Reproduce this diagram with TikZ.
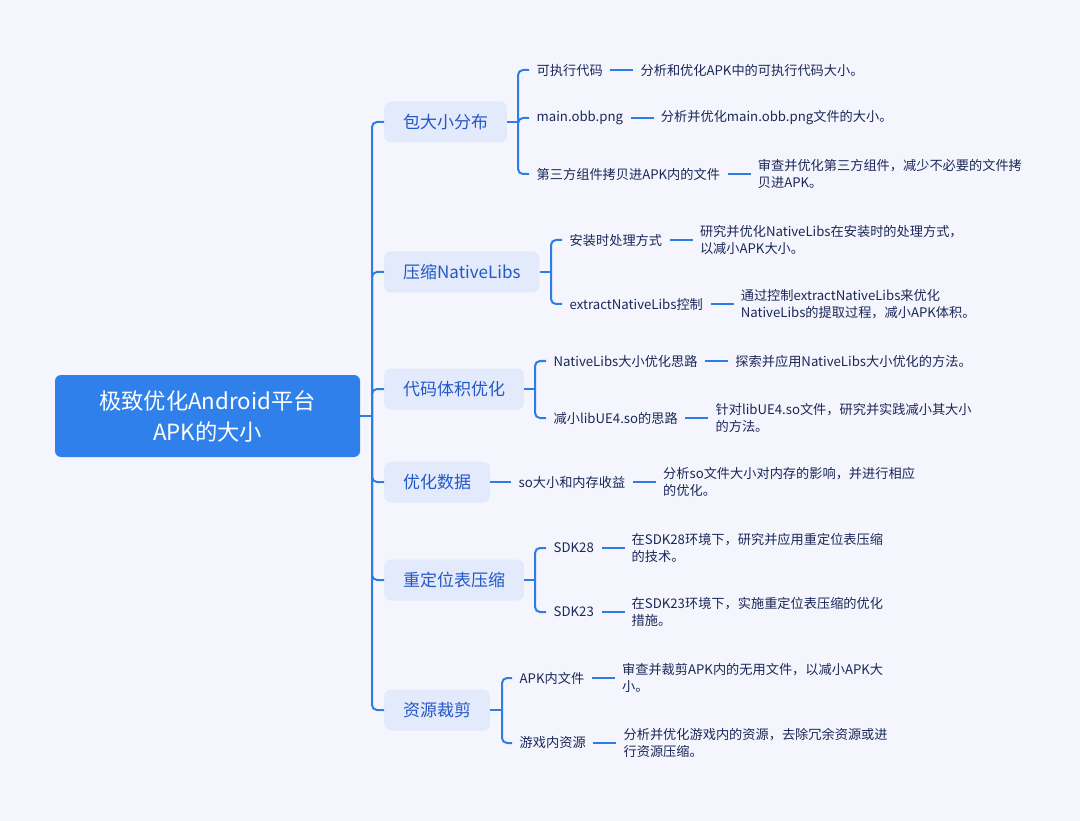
\documentclass[tikz,border=0pt]{standalone}
\usepackage{fontspec}
\setmainfont{Noto Sans CJK SC}
\usetikzlibrary{positioning}
\definecolor{bgc}{HTML}{F5F6FD}
\definecolor{rootc}{HTML}{2F80EA}
\definecolor{linec}{HTML}{2E7DE6}
\definecolor{brfill}{HTML}{E3EAFC}
\definecolor{brtext}{HTML}{2358C6}
\definecolor{leaftext}{HTML}{1B2758}
\begin{document}
\begin{tikzpicture}[x=1pt,y=-1pt,
  rootbox/.style={fill=rootc, rounded corners=6pt, minimum width=305pt, minimum height=82pt, text=white, font=\fontsize{22.3}{31}\selectfont, align=center, inner sep=0pt},
  branch/.style={fill=brfill, rounded corners=7pt, minimum height=41pt, text=brtext, font=\fontsize{17}{20}\selectfont, anchor=west, inner xsep=19pt, inner ysep=0pt},
  leaf/.style={text=leaftext, font=\fontsize{13.2}{17.5}\selectfont, anchor=west, inner xsep=7.5pt, inner ysep=2pt},
  desc/.style={leaf, align=left, inner xsep=7pt},
  conn/.style={draw=linec, line width=2pt, rounded corners=5pt},
  dashc/.style={draw=linec, line width=2pt}]
\fill[bgc] (0,0) rectangle (1080,821);
\useasboundingbox (0,0) rectangle (1080,821);

% root
\node[rootbox] (root) at (207.5,416) {极致优化Android平台\\APK的大小};
\coordinate (t) at (372,416);
\draw[dashc] (root.east) -- (t);

% branches
\node[branch] (b1) at (384,122) {包大小分布};
\node[branch] (b2) at (384,272) {压缩NativeLibs};
\node[branch] (b3) at (384,389) {代码体积优化};
\node[branch] (b4) at (384,482) {优化数据};
\node[branch] (b5) at (384,580) {重定位表压缩};
\node[branch] (b6) at (384,710) {资源裁剪};
\foreach \b in {b1,b2,b3,b4,b5,b6} \draw[conn] (t) |- (\b.west);

% branch 1
\coordinate (j1) at (518,122);
\node[leaf] (l11) at (529,70) {可执行代码};
\node[leaf] (l12) at (529,118) {main.obb.png};
\node[leaf] (l13) at (529,174) {第三方组件拷贝进APK内的文件};
\draw[dashc] (b1.east) -- (j1);
\foreach \l in {l11,l12,l13} \draw[conn] (j1) |- (\l.west);
\node[desc, right=23pt of l11] (d11) {分析和优化APK中的可执行代码大小。};
\node[desc, right=23pt of l12] (d12) {分析并优化main.obb.png文件的大小。};
\node[desc, right=23pt of l13] (d13) {审查并优化第三方组件，减少不必要的文件拷\\贝进APK。};

% branch 2
\coordinate (j2) at (551,272);
\node[leaf] (l21) at (562,240) {安装时处理方式};
\node[leaf] (l22) at (562,304) {extractNativeLibs控制};
\draw[dashc] (b2.east) -- (j2);
\foreach \l in {l21,l22} \draw[conn] (j2) |- (\l.west);
\node[desc, right=23pt of l21] (d21) {研究并优化NativeLibs在安装时的处理方式，\\以减小APK大小。};
\node[desc, right=23pt of l22] (d22) {通过控制extractNativeLibs来优化\\NativeLibs的提取过程，减小APK体积。};

% branch 3
\coordinate (j3) at (535,389);
\node[leaf] (l31) at (546,361) {NativeLibs大小优化思路};
\node[leaf] (l32) at (546,418) {减小libUE4.so的思路};
\draw[dashc] (b3.east) -- (j3);
\foreach \l in {l31,l32} \draw[conn] (j3) |- (\l.west);
\node[desc, right=23pt of l31] (d31) {探索并应用NativeLibs大小优化的方法。};
\node[desc, right=23pt of l32] (d32) {针对libUE4.so文件，研究并实践减小其大小\\的方法。};

% branch 4
\node[leaf] (l41) at (511,482) {so大小和内存收益};
\draw[dashc] (b4.east) -- (l41.west);
\node[desc, right=23pt of l41] (d41) {分析so文件大小对内存的影响，并进行相应\\的优化。};

% branch 5
\coordinate (j5) at (535,580);
\node[leaf] (l51) at (546,548) {SDK28};
\node[leaf] (l52) at (546,612) {SDK23};
\draw[dashc] (b5.east) -- (j5);
\foreach \l in {l51,l52} \draw[conn] (j5) |- (\l.west);
\node[desc, right=23pt of l51] (d51) {在SDK28环境下，研究并应用重定位表压缩\\的技术。};
\node[desc, right=23pt of l52] (d52) {在SDK23环境下，实施重定位表压缩的优化\\措施。};

% branch 6
\coordinate (j6) at (502,710);
\node[leaf] (l61) at (512,678) {APK内文件};
\node[leaf] (l62) at (512,743) {游戏内资源};
\draw[dashc] (b6.east) -- (j6);
\foreach \l in {l61,l62} \draw[conn] (j6) |- (\l.west);
\node[desc, right=23pt of l61] (d61) {审查并裁剪APK内的无用文件，以减小APK大\\小。};
\node[desc, right=23pt of l62] (d62) {分析并优化游戏内的资源，去除冗余资源或进\\行资源压缩。};

% dashes between leaves and descriptions
\foreach \a/\d in {l11/d11,l12/d12,l13/d13,l21/d21,l22/d22,l31/d31,l32/d32,l41/d41,l51/d51,l52/d52,l61/d61,l62/d62}
  \draw[dashc] (\a.east) -- (\d.west);
\end{tikzpicture}
\end{document}
